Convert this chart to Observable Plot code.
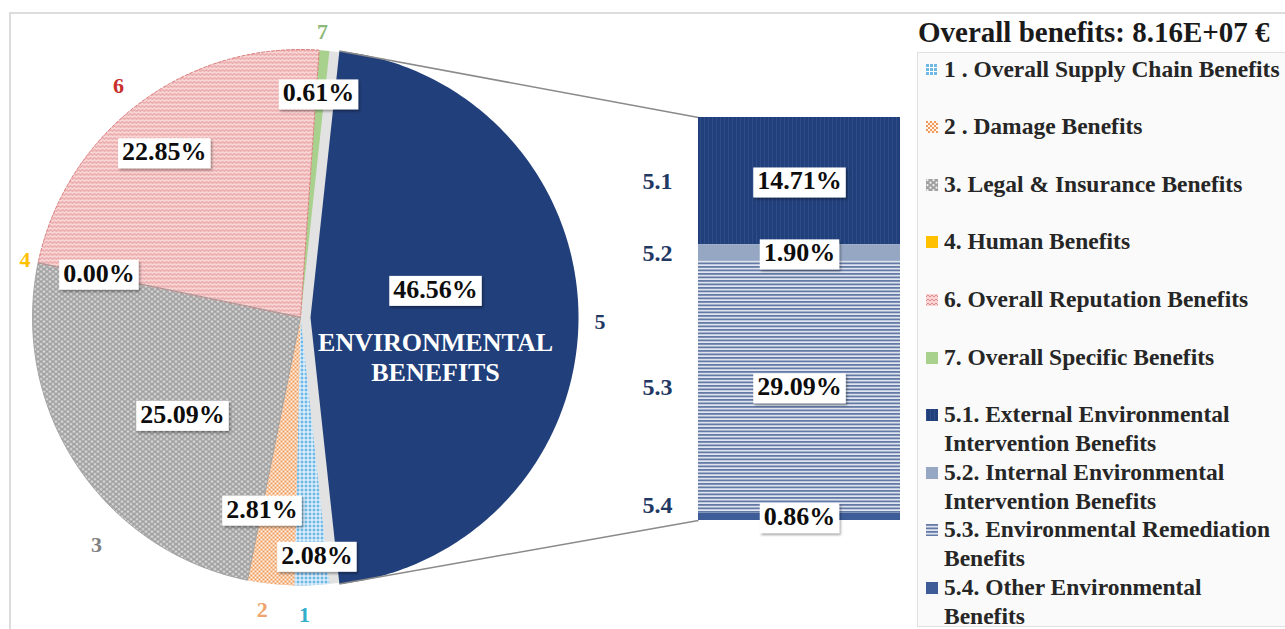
<!DOCTYPE html>
<html><head><meta charset="utf-8">
<script src="https://cdn.jsdelivr.net/npm/d3@7"></script>
<script src="https://cdn.jsdelivr.net/npm/@observablehq/plot@0.6"></script>
<style>
body{margin:0;background:#fff;font-family:"Liberation Serif","Times New Roman",serif;}
#wrap{position:relative;width:1285px;height:629px;overflow:hidden;}
#chart{position:absolute;left:0;top:0;}
#frame{position:absolute;left:9px;top:12px;width:1320px;height:700px;border:2px solid #dcdcdc;}
#title{position:absolute;left:918px;top:14px;font-weight:bold;font-size:29px;white-space:nowrap;color:#1a1a1a;line-height:36px;}
#legend{position:absolute;left:917px;top:52px;width:420px;height:573px;border:1px solid #e0e0e0;background:#fafafa;}
.item{position:absolute;left:8px;font-weight:bold;font-size:23.5px;line-height:29px;white-space:pre;color:#262626;padding-left:18px;}
.item svg{position:absolute;left:0;top:9px;}
</style>
</head><body>
<div id="wrap"><div id="frame"></div><div id="chart"></div><div id="title"></div><div id="legend"></div></div>
<script>
// ---------- data ----------
const pieCats   = ["5", "1", "2", "3", "4", "6", "7"];          // clockwise order
const pieValues = [46.56, 2.08, 2.81, 25.09, 0.00, 22.85, 0.61]; // % of overall benefits
const barCats   = ["5.1", "5.2", "5.3", "5.4"];
const barValues = [14.71, 1.90, 29.09, 0.86];
const centreText = "ENVIRONMENTAL\nBENEFITS";
const titleText = "Overall  benefits: 8.16E+07 €";
const legendKeys  = ["1", "2", "3", "4", "6", "7", "5.1", "5.2", "5.3", "5.4"];
const legendNames = [
  "1 . Overall Supply Chain Benefits",
  "2 . Damage Benefits",
  "3. Legal & Insurance Benefits",
  "4. Human Benefits",
  "6. Overall Reputation Benefits",
  "7. Overall Specific Benefits",
  "5.1. External Environmental\nIntervention Benefits",
  "5.2. Internal Environmental\nIntervention Benefits",
  "5.3. Environmental Remediation\nBenefits",
  "5.4. Other Environmental\nBenefits"
];

// ---------- styles ----------
const fills = {"5":"#213f7a","1":"url(#p1)","2":"url(#p2)","3":"url(#p3)","4":"#ffc000","6":"url(#p6)","7":"#a9d18e",
               "5.1":"url(#p51)","5.2":"#95a7c2","5.3":"url(#p53)","5.4":"#3d5c98"};
const catColors = {"5":"#1f3864","1":"#33aecb","2":"#f0a36a","3":"#808080","4":"#ffc000","6":"#c9302c","7":"#8db87a"};
const FONT = '"Liberation Serif","Times New Roman",serif';

// ---------- layout ----------
const W = 1285, H = 629, R = 268, CX = 300, CY = 317;
const EXPLODE = 10 / R;
const BAR = {x1: (698 - CX) / R, x2: (900 - CX) / R, top: (CY - 117) / R, bottom: (CY - 520) / R, labelX: (657 - CX) / R};
const pctLayout = {"5":{r:0.478,da:-12.6},"1":{r:0.89,da:-1.5},"2":{r:0.73,da:5},"3":{r:0.57,da:-6},"4":{r:0.77,da:0.6},"6":{r:0.80,da:-2.3},"7":{r:0.84,da:-0.5}};
const catLayout = {"5":{r:1.08,da:0.8},"1":{r:1.11,da:1.7},"2":{r:1.10,da:1.1},"3":{r:1.14,da:-14.7},"4":{r:1.05,da:0},"6":{r:1.10,da:-1},"7":{r:1.067,da:-0.7}};
const barLabelShift = {"5.4": 11 / R};

const rad = d => d * Math.PI / 180;
const fmt = d3.format(".2f");
const total = d3.sum(pieValues);
let acc = 90 - pieValues[0] / total * 180; // slice 5 centred on 3 o'clock
const slices = pieCats.map((c, i) => {
  const a0 = acc, a1 = acc + pieValues[i] / total * 360; acc = a1;
  const mid = (a0 + a1) / 2;
  const off = c === "5" ? EXPLODE : 0;
  return {cat: c, value: pieValues[i], a0, a1, mid, ox: off * Math.sin(rad(mid)), oy: off * Math.cos(rad(mid))};
});
const polys = slices.filter(s => s.value > 0).flatMap(s => {
  const n = Math.max(2, Math.ceil(s.a1 - s.a0));
  const pts = [{cat: s.cat, x: s.ox, y: s.oy, fill: fills[s.cat]}];
  for (let k = 0; k <= n; k++) {
    const a = s.a0 + (s.a1 - s.a0) * k / n;
    pts.push({cat: s.cat, x: s.ox + Math.sin(rad(a)), y: s.oy + Math.cos(rad(a)), fill: fills[s.cat]});
  }
  return pts;
});
const circle = d3.range(0, 361, 2).map(a => ({x: Math.sin(rad(a)), y: Math.cos(rad(a))}));
const pos = (s, L) => ({x: s.ox + L.r * Math.sin(rad(s.mid + L.da)), y: s.oy + L.r * Math.cos(rad(s.mid + L.da))});
const pctLabels = slices.map(s => ({...pos(s, pctLayout[s.cat]), text: fmt(s.value) + "%"}));
const catLabels = slices.map(s => ({...pos(s, catLayout[s.cat]), text: s.cat, color: catColors[s.cat]}));
const s5 = slices[0];
const links = [
  {x1: s5.ox + Math.sin(rad(s5.a0)), y1: s5.oy + Math.cos(rad(s5.a0)), x2: BAR.x1, y2: BAR.top},
  {x1: s5.ox + Math.sin(rad(s5.a1)), y1: s5.oy + Math.cos(rad(s5.a1)), x2: BAR.x1, y2: BAR.bottom}
];
const kk = (BAR.top - BAR.bottom) / d3.sum(barValues);
let cum = 0;
const bars = barCats.map((c, i) => {
  const y2 = BAR.top - cum * kk; cum += barValues[i]; const y1 = BAR.top - cum * kk;
  const ym = (y1 + y2) / 2;
  return {cat: c, x1: BAR.x1, x2: BAR.x2, xm: (BAR.x1 + BAR.x2) / 2, lx: BAR.labelX, y1, y2, ym,
          ly: ym + (barLabelShift[c] || 0), fill: fills[c], text: fmt(barValues[i]) + "%"};
});

const svg = Plot.plot({
  width: W, height: H, margin: 0,
  x: {domain: [-CX / R, (W - CX) / R], axis: null},
  y: {domain: [(CY - H) / R, CY / R], axis: null},
  color: {type: "identity"},
  style: {background: "transparent", fontFamily: FONT},
  marks: [
    Plot.line(circle, {x: "x", y: "y", fill: "#e2e2e2", stroke: "none", curve: "linear-closed"}),
    Plot.line(polys, {x: "x", y: "y", z: "cat", fill: "fill", stroke: "none", curve: "linear-closed"}),
    Plot.line(polys.filter(d => d.cat === "6"), {x: "x", y: "y", fill: "none", stroke: "#de7f7f", strokeWidth: 1, strokeDasharray: "3,2", curve: "linear-closed"}),
    Plot.line(polys.filter(d => d.cat === "3"), {x: "x", y: "y", fill: "none", stroke: "#9a9a9a", strokeWidth: 0.8, curve: "linear-closed"}),
    Plot.link(links, {x1: "x1", y1: "y1", x2: "x2", y2: "y2", stroke: "#8a8a8a", strokeWidth: 1.5}),
    Plot.rect(bars, {x1: "x1", x2: "x2", y1: "y1", y2: "y2", fill: "fill"}),
    Plot.text(pctLabels, {x: "x", y: "y", text: "text", fontSize: 26, fontWeight: "bold", fill: "#0d0d0d"}),
    Plot.text([pctLabels[0]], {x: "x", y: "y", text: () => centreText, dy: 67, lineHeight: 1.15, fontSize: 26, fontWeight: "bold", fill: "#ffffff"}),
    Plot.text(catLabels, {x: "x", y: "y", text: "text", fontSize: 22, fontWeight: "bold", fill: "color"}),
    Plot.text(bars, {x: "lx", y: "ly", text: "cat", fontSize: 24, fontWeight: "bold", fill: "#1f3864"}),
    Plot.text(bars, {x: "xm", y: "ym", text: "text", fontSize: 26, fontWeight: "bold", fill: "#0d0d0d"})
  ]
});
document.getElementById("chart").appendChild(svg);

// patterns
const defs = d3.select(svg).insert("defs", ":first-child");
function pat(id, w, h, draw) {
  const p = defs.append("pattern").attr("id", id).attr("patternUnits", "userSpaceOnUse").attr("width", w).attr("height", h);
  draw(p);
}
pat("p1", 4, 4, p => { p.append("rect").attr("width", 4).attr("height", 4).attr("fill", "#ffffff");
  p.append("rect").attr("width", 3).attr("height", 3).attr("fill", "#6fb8e6"); });
pat("p2", 4, 4, p => { p.append("rect").attr("width", 4).attr("height", 4).attr("fill", "#fff3ea");
  p.append("rect").attr("width", 2).attr("height", 2).attr("fill", "#ef9a5a");
  p.append("rect").attr("x", 2).attr("y", 2).attr("width", 2).attr("height", 2).attr("fill", "#ef9a5a"); });
pat("p3", 6, 5, p => { p.append("rect").attr("width", 6).attr("height", 5).attr("fill", "#a0a0a0");
  p.append("circle").attr("cx", 1.5).attr("cy", 1.2).attr("r", 1.1).attr("fill", "#f2f2f2");
  p.append("circle").attr("cx", 4.5).attr("cy", 3.7).attr("r", 1.1).attr("fill", "#f2f2f2"); });
pat("p6", 4, 4, p => { p.append("rect").attr("width", 4).attr("height", 4).attr("fill", "#f8d4d4");
  p.append("path").attr("d", "M0,3 L2,1 L4,3").attr("fill", "none").attr("stroke", "#e08c8c").attr("stroke-width", 1); });
pat("p51", 4, 4, p => { p.append("rect").attr("width", 4).attr("height", 4).attr("fill", "#213f7a");
  p.append("rect").attr("width", 1).attr("height", 4).attr("fill", "#2d4c88"); });
pat("p53", 4, 3.5, p => { p.append("rect").attr("width", 4).attr("height", 3.5).attr("fill", "#e2e7f0");
  p.append("rect").attr("width", 4).attr("height", 1.8).attr("fill", "#6479a5"); });
const fl = defs.append("filter").attr("id", "sh").attr("x", "-20%").attr("y", "-20%").attr("width", "150%").attr("height", "160%");
fl.append("feDropShadow").attr("dx", 1.5).attr("dy", 2).attr("stdDeviation", 1.2).attr("flood-color", "#000").attr("flood-opacity", 0.35);

// white boxes behind percentage labels (same transform as each text)
d3.select(svg).selectAll('g[fill="#0d0d0d"] text').each(function () {
  const b = this.getBBox();
  const r = document.createElementNS("http://www.w3.org/2000/svg", "rect");
  r.setAttribute("x", b.x - 4); r.setAttribute("y", b.y + 1);
  r.setAttribute("width", b.width + 8); r.setAttribute("height", b.height + 1);
  r.setAttribute("fill", "#ffffff"); r.setAttribute("filter", "url(#sh)");
  const t = this.getAttribute("transform");
  if (t) r.setAttribute("transform", t);
  this.parentNode.insertBefore(r, this);
});

// title + legend
document.getElementById("title").textContent = titleText;
const leg = d3.select("#legend");
legendKeys.forEach((k, i) => {
  const it = leg.append("div").attr("class", "item").style("top", (1.5 + i * 57.6) + "px").text(legendNames[i]);
  const sv = it.append("svg").attr("width", 12).attr("height", 12);
  sv.append("rect").attr("width", 12).attr("height", 12).attr("fill", fills[k]);
});
</script>
</body></html>
